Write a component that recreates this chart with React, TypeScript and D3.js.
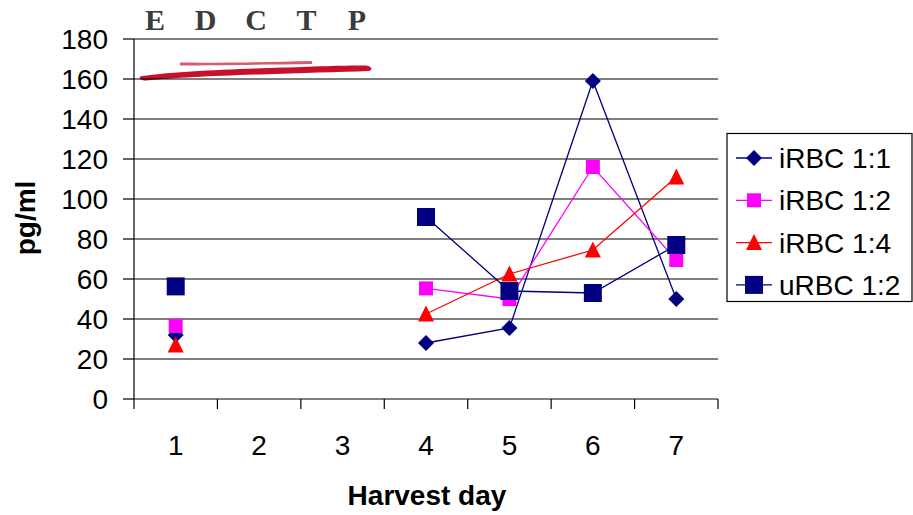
import React from "react";
import * as d3 from "d3";

const days = ["1", "2", "3", "4", "5", "6", "7"];
const yTicks = [0, 20, 40, 60, 80, 100, 120, 140, 160, 180];
const seriesNames = ["iRBC 1:1", "iRBC 1:2", "iRBC 1:4", "uRBC 1:2"];
const iRBC11: (number | null)[] = [32, null, null, 28, 35.5, 159, 50];
const iRBC12: (number | null)[] = [36.5, null, null, 55.3, 50, 116, 69.5];
const iRBC14: (number | null)[] = [27, null, null, 42.5, 62.5, 74.5, 111];
const uRBC12: (number | null)[] = [56.3, null, null, 91, 54, 53, 77];
const colors = ["#000080", "#FF00FF", "#FF0000", "#000080"];
const markers = ["diamond", "smallSquare", "triangle", "bigSquare"];
const logoLetters = ["E", "D", "C", "T", "P"];

const W = 913;
const H = 515;
const left = 134;
const right = 718;
const top = 39;
const bottom = 399;

function Marker({ kind, x, y, color }: { kind: string; x: number; y: number; color: string }) {
  if (kind === "diamond") {
    const r = 8;
    return <path d={`M${x},${y - r}L${x + r},${y}L${x},${y + r}L${x - r},${y}Z`} fill={color} />;
  }
  if (kind === "smallSquare") {
    const s = 14;
    return <rect x={x - s / 2} y={y - s / 2} width={s} height={s} fill={color} />;
  }
  if (kind === "bigSquare") {
    const s = 18;
    return <rect x={x - s / 2} y={y - s / 2} width={s} height={s} fill={color} />;
  }
  const w = 16;
  const h = 15;
  return <path d={`M${x},${y - h / 2 - 1}L${x + w / 2},${y + h / 2}L${x - w / 2},${y + h / 2}Z`} fill={color} />;
}

export default function App() {
  const data = [iRBC11, iRBC12, iRBC14, uRBC12];
  const x = d3.scaleBand<string>().domain(days).range([left, right]).padding(0);
  const y = d3.scaleLinear().domain([0, 180]).range([bottom, top]);
  const cx = (d: string) => (x(d) as number) + x.bandwidth() / 2;
  const line = d3
    .line<number | null>()
    .defined((d) => d !== null)
    .x((_, i) => cx(days[i]))
    .y((d) => y(d as number));

  const boundaries = days.map((d) => x(d) as number).concat([right]);
  const font = "'Liberation Sans', Arial, sans-serif";

  return (
    <svg width={W} height={H} style={{ position: "absolute", left: 0, top: 0, background: "#fff" }}>
      {/* Logo */}
      {logoLetters.map((l, i) => (
        <text
          key={l}
          x={155 + i * 50.5}
          y={30}
          textAnchor="middle"
          fontFamily="'Liberation Serif', 'DejaVu Serif', serif"
          fontSize={30}
          fontWeight="bold"
          fill="#3c3c3c"
        >
          {l}
        </text>
      ))}
      <path
        d="M142,76 C170,72 220,69.5 270,68 C310,66.5 350,65 366,65.5 C372,66.5 373,69.5 369,71 C340,72 300,73 260,74.5 C210,76 175,78 146,80.5 C139,80.5 138,77 142,76 Z"
        fill="#C8102E"
      />
      <path d="M180,62.5 C220,63 270,62 312,61 L312,64 C270,64.5 220,65.5 180,65.5 Z" fill="#D0324A" opacity={0.8} />

      {/* Gridlines */}
      {yTicks.map((t) => (
        <line key={t} x1={left} x2={right} y1={y(t)} y2={y(t)} stroke="#000" strokeWidth={1.2} />
      ))}
      {/* Y axis */}
      <line x1={left} x2={left} y1={top} y2={bottom} stroke="#000" strokeWidth={1.2} />
      {yTicks.map((t) => (
        <g key={t}>
          <line x1={left - 11} x2={left} y1={y(t)} y2={y(t)} stroke="#000" strokeWidth={1.2} />
          <text x={108} y={y(t) + 10} textAnchor="end" fontFamily={font} fontSize={28} fill="#000">
            {t}
          </text>
        </g>
      ))}
      {/* X axis ticks */}
      {boundaries.map((b, i) => (
        <line key={i} x1={b} x2={b} y1={bottom} y2={bottom + 10} stroke="#000" strokeWidth={1.2} />
      ))}
      {days.map((d) => (
        <text key={d} x={cx(d)} y={455} textAnchor="middle" fontFamily={font} fontSize={28} fill="#000">
          {d}
        </text>
      ))}
      <text x={427} y={505} textAnchor="middle" fontFamily={font} fontSize={28} fontWeight="bold" fill="#000">
        Harvest day
      </text>
      <text
        transform={`translate(35,218) rotate(-90)`}
        textAnchor="middle"
        fontFamily={font}
        fontSize={28}
        fontWeight="bold"
        fill="#000"
      >
        pg/ml
      </text>

      {/* Series */}
      {data.map((s, si) => (
        <g key={si}>
          <path d={line(s) || ""} fill="none" stroke={colors[si]} strokeWidth={1.3} />
        </g>
      ))}
      {data.map((s, si) => (
        <g key={"m" + si}>
          {s.map((v, i) =>
            v === null ? null : <Marker key={i} kind={markers[si]} x={cx(days[i])} y={y(v)} color={colors[si]} />
          )}
        </g>
      ))}

      {/* Legend */}
      <rect x={727} y={133.5} width={185} height={168} fill="#fff" stroke="#000" strokeWidth={1.2} />
      {seriesNames.map((n, i) => {
        const ly = 158 + i * 42.3;
        return (
          <g key={n}>
            <line x1={736} x2={772} y1={ly} y2={ly} stroke={colors[i]} strokeWidth={1.3} />
            <Marker kind={markers[i]} x={754} y={ly} color={colors[i]} />
            <text x={779} y={ly + 10} fontFamily={font} fontSize={28} fill="#000">
              {n}
            </text>
          </g>
        );
      })}
    </svg>
  );
}
